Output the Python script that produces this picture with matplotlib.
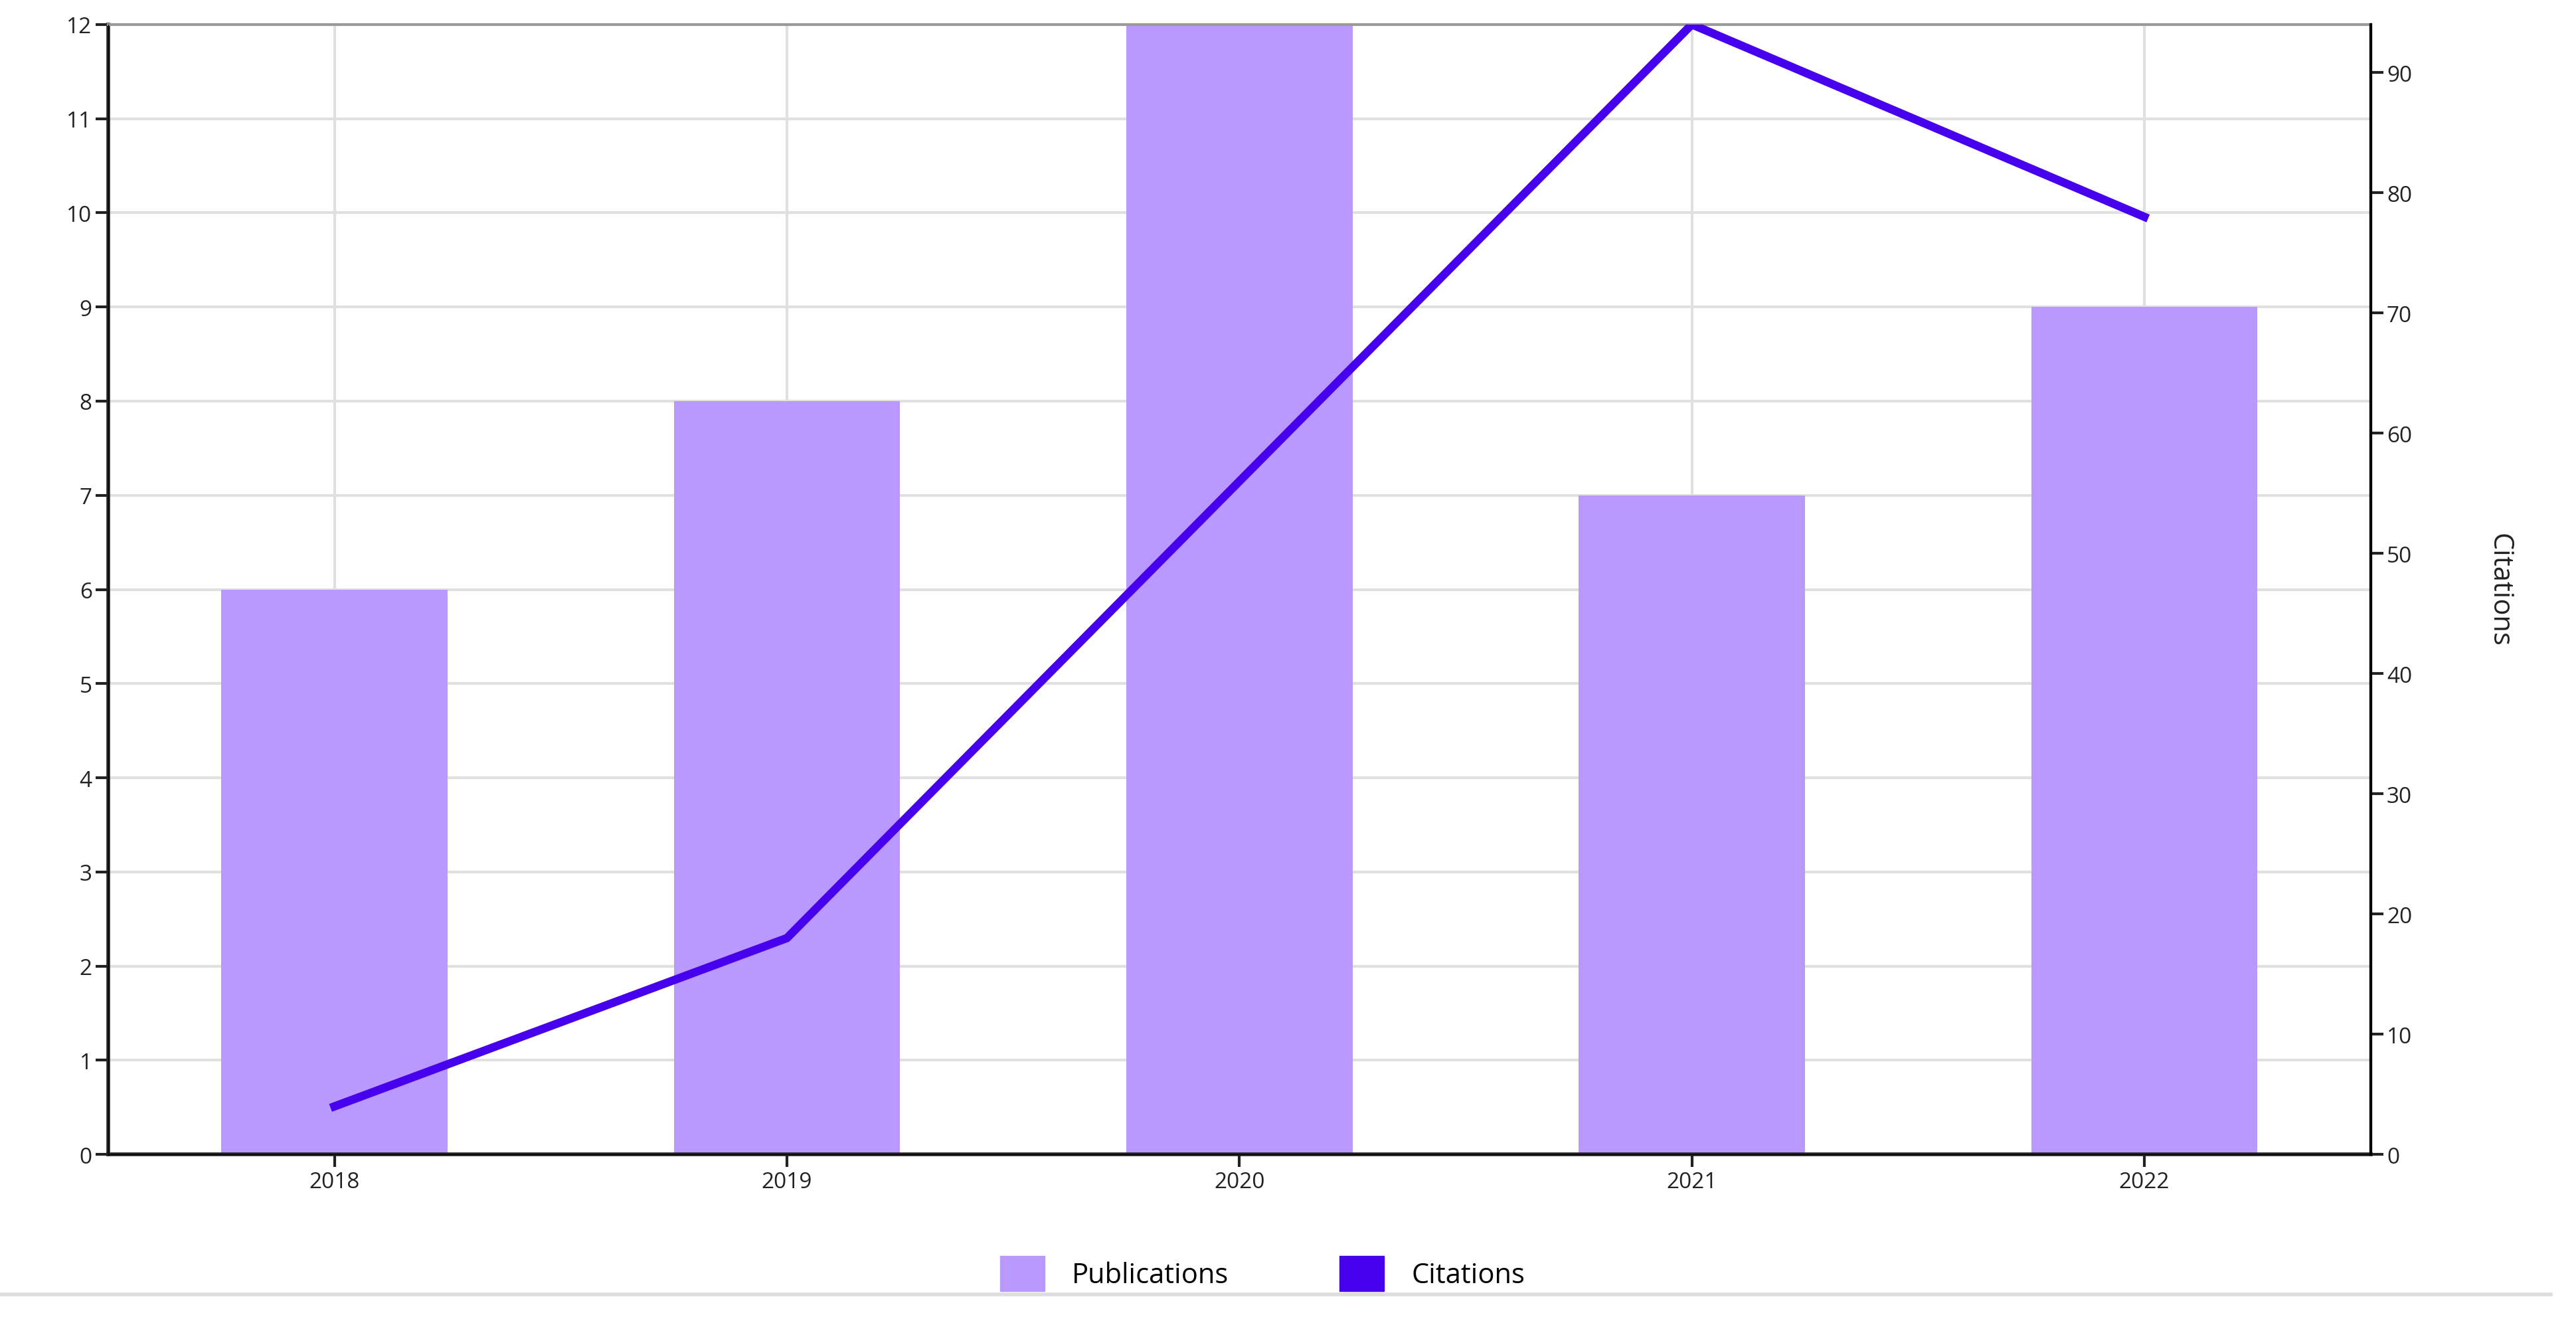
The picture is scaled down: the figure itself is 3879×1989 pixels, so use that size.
import matplotlib
matplotlib.use("Agg")
import matplotlib.pyplot as plt
from matplotlib.patches import Patch

years = ["2018", "2019", "2020", "2021", "2022"]
publications = [6, 8, 12, 7, 9]
citations = [4, 18, 56, 94, 78]

plt.rcParams['font.family'] = ['Open Sans', 'DejaVu Sans']
fig = plt.figure(figsize=(38.8, 19.9), dpi=100)
ax = fig.add_axes([0.042, 0.126, 0.878, 0.855])
x = list(range(len(years)))
ax.bar(x, publications, width=0.5, color="#b999fd", zorder=2)
ax.set_xlim(-0.5, 4.5)
ax.set_ylim(0, 12)
ax.set_yticks(range(0, 13))
ax.set_xticks(x)
ax.set_xticklabels(years)
ax.grid(True, color="#e0e0e0", linewidth=3, zorder=0)
ax.set_axisbelow(True)
for s in ["left", "bottom"]:
    ax.spines[s].set_linewidth(4)
    ax.spines[s].set_color("#222222")
ax.spines["top"].set_color("#999999")
ax.spines["top"].set_linewidth(3)
ax.spines["right"].set_linewidth(3)
ax.tick_params(labelsize=24, width=3, length=14, colors="#222222")

ax2 = ax.twinx()
ax2.plot(x, citations, color="#4700ee", linewidth=9, zorder=3)
ax2.set_ylim(0, 94)
ax2.set_yticks(range(0, 91, 10))
ax2.tick_params(labelsize=24, width=3, length=14, colors="#222222")
ax2.spines["right"].set_linewidth(3)
ax2.spines["top"].set_visible(False)
ax2.set_ylabel("Citations", rotation=270, fontsize=30, labelpad=110, color="#222222")

handles = [Patch(color="#b999fd", label="Publications"), Patch(color="#4700ee", label="Citations")]
fig.legend(handles=handles, loc="center", bbox_to_anchor=(0.49, 0.036), ncol=2, frameon=False,
           fontsize=30, handlelength=1.6, handleheight=1.6, columnspacing=4, handletextpad=1)
fig.add_artist(plt.Line2D([0, 0.99], [0.02, 0.02], color="#dddddd", linewidth=4))
fig.savefig("out.png", dpi=100)
